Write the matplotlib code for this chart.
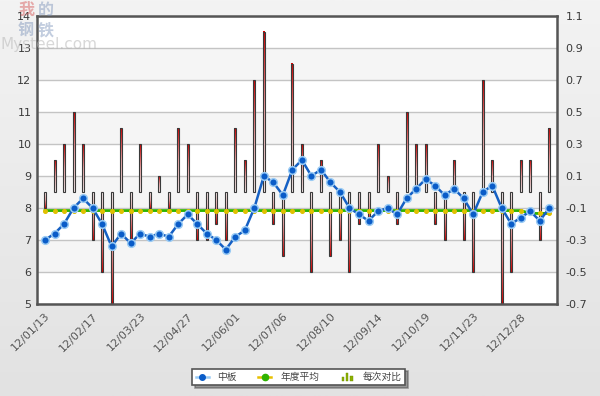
import numpy as np
import matplotlib
matplotlib.use('Agg')
import matplotlib.pyplot as plt
from matplotlib.lines import Line2D
from matplotlib.patches import Rectangle
from matplotlib.legend_handler import HandlerBase
from matplotlib.colors import LinearSegmentedColormap

plt.rcParams['font.family'] = ['DejaVu Sans', 'Noto Sans CJK SC']

# ---------------- data ----------------
tick_labels = ['12/01/13', '12/02/17', '12/03/23', '12/04/27', '12/06/01', '12/07/06',
               '12/08/10', '12/09/14', '12/10/19', '12/11/23', '12/12/28']
tick_step = 5

price = [7.0, 7.2, 7.5, 8.0, 8.3, 8.0, 7.5, 6.8, 7.2, 6.9, 7.2, 7.1, 7.2, 7.1,
         7.5, 7.8, 7.5, 7.2, 7.0, 6.7, 7.1, 7.3, 8.0, 9.0, 8.8, 8.4, 9.2,
         9.5, 9.0, 9.2, 8.8, 8.5, 8.0, 7.8, 7.6, 7.9, 8.0, 7.8, 8.3, 8.6, 8.9,
         8.7, 8.4, 8.6, 8.3, 7.8, 8.5, 8.7, 8.0, 7.5, 7.7, 7.9, 7.6, 8.0]

change = [-0.1, 0.2, 0.3, 0.5, 0.3, -0.3, -0.5, -0.7, 0.4, -0.3, 0.3, -0.1, 0.1, -0.1,
          0.4, 0.3, -0.3, -0.3, -0.2, -0.3, 0.4, 0.2, 0.7, 1.0, -0.2, -0.4, 0.8,
          0.3, -0.5, 0.2, -0.4, -0.3, -0.5, -0.2, -0.2, 0.3, 0.1, -0.2, 0.5, 0.3, 0.3,
          -0.2, -0.3, 0.2, -0.3, -0.5, 0.7, 0.2, -0.7, -0.5, 0.2, 0.2, -0.3, 0.4]

avg_2012 = 7.92
avg_2013 = 7.83
n_2012 = 51
n_2013 = 3
annual_avg = [avg_2012] * n_2012 + [avg_2013] * n_2013

left_ticks = [5, 6, 7, 8, 9, 10, 11, 12, 13, 14]
right_ticks = [-0.7, -0.5, -0.3, -0.1, 0.1, 0.3, 0.5, 0.7, 0.9, 1.1]

names = ['中板', '年度平均', '每次对比']

# ---------------- figure ----------------
W, H = 600, 396
fig = plt.figure(figsize=(W / 100, H / 100), dpi=100)

# background gradient
bg = fig.add_axes([0, 0, 1, 1], zorder=-10)
grad = np.linspace(0, 1, 256).reshape(-1, 1)
bg_cmap = LinearSegmentedColormap.from_list('bg', ['#f3f3f3', '#e2e2e2'])
bg.imshow(grad, aspect='auto', cmap=bg_cmap, extent=[0, 1, 0, 1], origin='upper')
bg.set_axis_off()

x = np.arange(len(price))
L, R, T, B = 37, 557, 16, 304
ax_bar = fig.add_axes([L / W, 1 - B / H, (R - L) / W, (B - T) / H])
ax_line = ax_bar.twinx()

# bands and grid on the bar axes (bottom layer)
ax_bar.set_facecolor('white')
for k in range(len(right_ticks) - 1):
    if k % 2 == 1:
        ax_bar.axhspan(right_ticks[k], right_ticks[k + 1], color='#f5f5f5', zorder=0, lw=0)
for t in right_ticks:
    ax_bar.axhline(t, color='#c4c4c4', lw=1.0, zorder=1)

# gradient bars
bw = 0.21
bar_cmap = LinearSegmentedColormap.from_list('bar', ['#f6ecec', '#f0a8a8', '#d80000'])
for xi, v in zip(x, change):
    ax_bar.imshow(grad, aspect='auto', cmap=bar_cmap,
                  extent=[xi - bw / 2, xi + bw / 2, 0, v], origin='lower', zorder=2,
                  interpolation='bilinear')
ax_bar.bar(x, change, width=bw, bottom=0, fill=False, edgecolor='#3a3a3a',
           linewidth=0.8, zorder=3)

ax_bar.set_xlim(-0.84, 53.81)
ax_bar.set_ylim(right_ticks[0], right_ticks[-1])
ax_bar.set_aspect('auto')
ax_bar.yaxis.tick_right()
ax_bar.set_yticks(right_ticks)
ax_bar.set_yticklabels([f'{t:.1f}' for t in right_ticks])
ax_bar.tick_params(axis='y', length=0, pad=6, labelsize=8, labelcolor='#3a3a3a')

ax_bar.set_xticks(x[::tick_step])
ax_bar.set_xticklabels(tick_labels, rotation=45, ha='right', va='top',
                       rotation_mode='anchor')
ax_bar.tick_params(axis='x', length=0, pad=5, labelsize=8, labelcolor='#555555')

for s in ax_bar.spines.values():
    s.set_color('#555555')
    s.set_linewidth(1.8)
    s.set_zorder(10)

# lines on top axes
ax_line.plot(x, annual_avg, color='#2fb300', lw=2.0, marker='o', ms=2.6,
             mfc='#e0c000', mec='#e0c000', zorder=3)
ax_line.plot(x, price, color='#1560c4', lw=1.8, marker='o', ms=5.5,
             mfc='#0a5cc8', mec='#9acbf4', mew=1.1, zorder=4)
ax_line.set_ylim(left_ticks[0], left_ticks[-1])
ax_line.yaxis.tick_left()
ax_line.set_yticks(left_ticks)
ax_line.tick_params(axis='y', length=0, pad=4, labelsize=8, labelcolor='#3a3a3a')
ax_line.set_xlim(-0.84, 53.81)
for s in ax_line.spines.values():
    s.set_visible(False)
ax_line.patch.set_visible(False)

# ---------------- legend ----------------
class BarsHandler(HandlerBase):
    def create_artists(self, legend, orig_handle, xdescent, ydescent, width, height,
                       fontsize, trans):
        hs = [0.55, 1.25, 0.75]
        arts = []
        bwid = width / 5.0
        for k, hh in enumerate(hs):
            r = Rectangle((-xdescent + width * 0.08 + k * bwid * 1.6, -ydescent - height * 0.15),
                          bwid, height * hh, facecolor='#8cb000', edgecolor='#6d8f00',
                          lw=0.3, transform=trans)
            arts.append(r)
        return arts

h1 = Line2D([], [], color='#9acbf4', lw=1.8, marker='o', ms=4, mfc='#0a5cc8', mec='#0a5cc8')
h2 = Line2D([], [], color='#e8c000', lw=1.8, marker='o', ms=4.5, mfc='#2fb300', mec='#2fb300')
h3 = Rectangle((0, 0), 1, 1)
leg = fig.legend([h1, h2, h3], names, ncol=3, loc='center',
                 bbox_to_anchor=(298.5 / W, 1 - 377 / H),
                 handler_map={Rectangle: BarsHandler()},
                 prop={'family': ['Noto Sans CJK SC', 'DejaVu Sans'], 'size': 7.0},
                 handlelength=1.35, handletextpad=0.9, columnspacing=2.2,
                 borderpad=0.35, frameon=True, fancybox=False, shadow=True,
                 framealpha=1, edgecolor='#555555', labelcolor='#444444')
leg.get_frame().set_linewidth(1.2)

# ---------------- watermark ----------------
wm_font = ['Noto Sans CJK SC', 'DejaVu Sans']
fig.text(26 / W, 1 - 10 / H, '我', family=wm_font, fontsize=11.5, weight='bold',
         color='#d86060', alpha=0.5, ha='center', va='center', zorder=20)
fig.text(46 / W, 1 - 10 / H, '的', family=wm_font, fontsize=11.5, weight='bold',
         color='#7890b8', alpha=0.45, ha='center', va='center', zorder=20)
fig.text(26 / W, 1 - 30 / H, '钢', family=wm_font, fontsize=11.5, weight='bold',
         color='#7890b8', alpha=0.45, ha='center', va='center', zorder=20)
fig.text(46 / W, 1 - 30 / H, '铁', family=wm_font, fontsize=11.5, weight='bold',
         color='#7890b8', alpha=0.45, ha='center', va='center', zorder=20)
fig.text(0 / W, 1 - 45 / H, 'Mysteel.com', fontsize=11, color='#b8b8b8',
         alpha=0.55, ha='left', va='center', zorder=20)

fig.savefig('out.png', dpi=100)
